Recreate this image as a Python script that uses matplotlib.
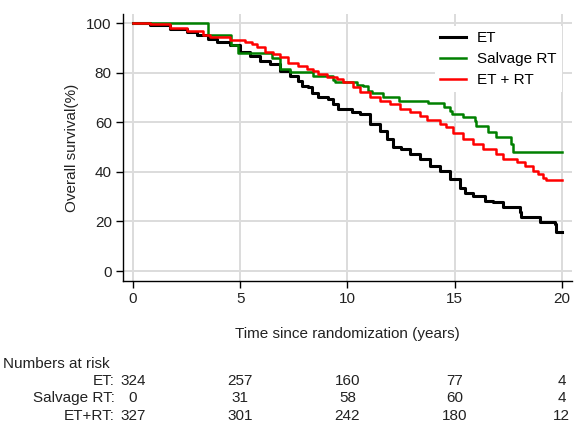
import numpy as np
import matplotlib
matplotlib.use('Agg')
import matplotlib.pyplot as plt
from matplotlib.transforms import blended_transform_factory

plt.rcParams['font.family'] = ['Liberation Sans', 'DejaVu Sans']

# Kaplan-Meier curves (years, % surviving)
et_t = [0, 0.8, 1.72, 2.5, 2.97, 3.5, 3.9, 4.52, 5.0, 5.45, 5.92, 6.39, 6.85,
        7.32, 7.71, 7.86, 8.17, 8.33, 8.64, 9.1, 9.34, 9.57, 10.2, 10.58,
        11.05, 11.51, 11.83, 12.14, 12.52, 12.91, 13.38, 13.85, 14.31, 14.78,
        15.24, 15.48, 15.87, 16.41, 16.8, 17.26, 18.04, 18.12, 18.97, 19.67,
        19.75, 20.0]
et_s = [100, 99.3, 97.7, 96.3, 95, 93.5, 92.3, 91, 88.5, 86.8, 84.8, 83.5, 80.8,
        78.8, 76.7, 74.7, 74.1, 72, 70, 69.4, 67.3, 65.3, 64.2, 63.3,
        59.3, 56.6, 53.2, 49.9, 49.2, 47.2, 45.2, 42.5, 40.5, 37.1,
        33.7, 31.3, 30.4, 28.3, 27.7, 25.7, 23.7, 21.7, 19.6, 19.0,
        15.8, 15.8]

salv_t = [0, 3.48, 4.55, 4.9, 6.5, 6.85, 7.32, 8.38, 9.34, 9.42, 10.43, 10.74,
          10.97, 11.13, 11.67, 12.4, 13.77, 14.5, 14.78, 14.86, 15.4, 15.94,
          16.02, 16.56, 16.95, 17.65, 17.73, 20.0]
salv_s = [100, 95.3, 91, 88, 86, 81.5, 80.1, 78.8, 77.2, 76.1, 75, 74.7,
          72.7, 72, 70, 68.7, 67.7, 66, 64.6, 63.3, 62, 60.4,
          58.6, 55.9, 53.9, 51.2, 48.1, 48.1]

etrt_t = [0, 0.79, 1.72, 2.5, 3.28, 3.59, 4.52, 5.22, 5.53, 5.77, 6.15, 6.54,
          6.85, 7.24, 7.71, 8.1, 8.41, 8.64, 9.03, 9.5, 9.8, 10.27, 10.58,
          11.05, 11.51, 11.98, 12.45, 12.91, 13.38, 13.69, 14.31, 14.6, 14.93,
          15.4, 15.87, 16.33, 16.95, 17.26, 17.89, 18.27, 18.66, 18.9, 19.13,
          19.25, 20.0]
etrt_s = [100, 99.5, 98.1, 97, 95, 94.4, 93, 92.2, 91.5, 90.2, 88.5, 87.5,
          86.2, 84.1, 82.8, 81.5, 80.8, 79.4, 78.1, 77.4, 76.1, 74.1, 72.4,
          70, 68.7, 67.3, 65.3, 64, 62.6, 60.9, 59.5, 57.9, 55.6,
          53.2, 51.2, 49.2, 47.2, 45.2, 43.8, 42.5, 40.5, 39.1, 37.5,
          36.8, 36.8]

# numbers at risk table
risk_times = [0, 5, 10, 15, 20]
risk_labels = ['ET:', 'Salvage RT:', 'ET+RT:']
risk_et = [324, 257, 160, 77, 4]
risk_salv = [0, 31, 58, 60, 4]
risk_etrt = [327, 301, 242, 180, 12]

fig = plt.figure(figsize=(5.8, 4.29), dpi=100)
ax = fig.add_axes([0.212, 0.345, 0.774, 0.622])

ax.step(et_t, et_s, where='post', color='black', lw=2.2, label='ET')
ax.step(salv_t, salv_s, where='post', color='#008000', lw=1.8, label='Salvage RT')
ax.step(etrt_t, etrt_s, where='post', color='#ff0000', lw=1.8, label='ET + RT')

ax.set_xlim(-0.47, 20.47)
ax.set_ylim(-4, 103.6)
ax.set_xticks([0, 5, 10, 15, 20])
ax.set_yticks([0, 20, 40, 60, 80, 100])
ax.grid(True, color='#dcdcdc', lw=1.4)
ax.set_axisbelow(True)
for s in ['top', 'right']:
    ax.spines[s].set_visible(False)
for s in ['left', 'bottom']:
    ax.spines[s].set_linewidth(1.0)
ax.tick_params(direction='out', length=5, width=1, labelsize=11,
               labelcolor='#222222', pad=3)

ax.set_xlabel('Time since randomization (years)', fontsize=11, labelpad=15,
              color='#222222')
ax.set_ylabel('Overall survival(%)', fontsize=11, labelpad=5, color='#222222')

leg = ax.legend(loc='upper right', bbox_to_anchor=(0.995, 0.985), fontsize=11,
                frameon=True, framealpha=1, edgecolor='none', facecolor='white',
                handlelength=1.7, handletextpad=0.7, labelspacing=0.45,
                borderpad=0.35, fancybox=False)
leg.get_frame().set_linewidth(0)

tr = blended_transform_factory(ax.transData, fig.transFigure)
fig.text(0.006, 0.151, 'Numbers at risk', fontsize=11, va='center', ha='left',
         color='#222222')
row_y = [0.112, 0.072, 0.031]
for lab, vals, y in zip(risk_labels, [risk_et, risk_salv, risk_etrt], row_y):
    fig.text(0.198, y, lab, fontsize=11, va='center', ha='right', color='#222222')
    for t, v in zip(risk_times, vals):
        ax.text(t, y, str(v), transform=tr, fontsize=11, va='center',
                ha='center', color='#222222')

plt.savefig('out.png', dpi=100)
